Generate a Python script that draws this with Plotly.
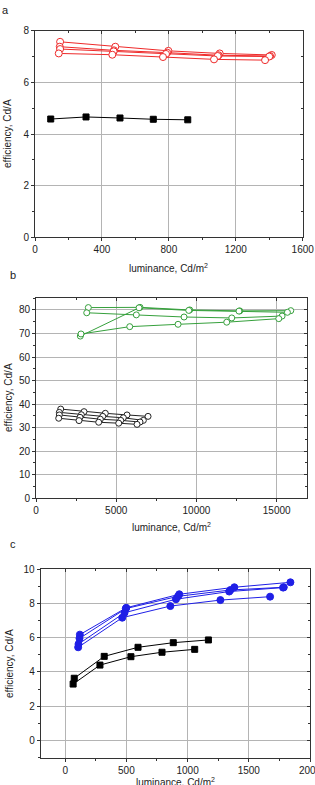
import plotly.graph_objects as go

# ---------------- data ----------------
# panel a
a_black_x = [94, 305, 508, 707, 913]
a_black_y = [4.58, 4.66, 4.62, 4.57, 4.55]
a_red_x = [
    [150, 480, 797, 1104, 1415],
    [148, 472, 790, 1097, 1405],
    [150, 470, 783, 1092, 1400],
    [142, 462, 765, 1070, 1375],
]
a_red_y = [
    [7.57, 7.38, 7.22, 7.12, 7.06],
    [7.38, 7.24, 7.15, 7.05, 7.02],
    [7.29, 7.20, 7.10, 7.02, 7.00],
    [7.12, 7.07, 6.98, 6.89, 6.86],
]
# panel b
b_green_x = [
    [3261, 6484, 9582, 12700, 15877],
    [2762, 6420, 9520, 12650, 15668],
    [3161, 6253, 9227, 12200, 15337],
    [2805, 5842, 8853, 11886, 15130],
]
b_green_y = [
    [81.0, 81.1, 80.0, 79.6, 79.7],
    [68.9, 80.9, 79.8, 79.5, 79.0],
    [78.8, 77.9, 77.0, 76.6, 77.4],
    [69.8, 72.9, 73.9, 74.8, 76.3],
]
b_black_x = [
    [1540, 2993, 4320, 5673, 6983],
    [1453, 2825, 4158, 5443, 6690],
    [1453, 2743, 4009, 5281, 6484],
    [1415, 2681, 3908, 5156, 6297],
]
b_black_y = [
    [37.9, 36.8, 36.1, 35.4, 34.8],
    [36.5, 35.5, 34.8, 34.2, 33.1],
    [35.4, 34.4, 33.6, 33.1, 32.4],
    [34.0, 33.0, 32.3, 31.9, 31.4],
]
# panel c
c_blue_x = [
    [120, 499, 932, 1382, 1840],
    [117, 495, 922, 1350, 1786],
    [109, 485, 905, 1340, 1780],
    [106, 466, 859, 1268, 1674],
]
c_blue_y = [
    [6.18, 7.75, 8.54, 8.95, 9.24],
    [5.96, 7.70, 8.42, 8.79, 8.95],
    [5.63, 7.46, 8.25, 8.70, 8.93],
    [5.44, 7.17, 7.85, 8.20, 8.40],
]
c_black_x = [
    [74, 319, 595, 883, 1170],
    [65, 284, 537, 791, 1058],
]
c_black_y = [
    [3.63, 4.91, 5.44, 5.71, 5.87],
    [3.29, 4.40, 4.89, 5.15, 5.32],
]

X_TITLE = "luminance, Cd/m<sup>2</sup>"
Y_TITLE = "efficiency, Cd/A"
PANEL_LABELS = ["a", "b", "c"]

# ---------------- figure ----------------
W, H = 315, 785
FONT = "Liberation Sans, Arial, sans-serif"
RED = "#ee2a2a"
GREEN = "#36a03c"
BLUE = "#1f1fe6"
GRID = "#b4b4b4"
TXT = "#222222"

fig = go.Figure()


def add(xs, ys, color, symbol, fill, size, xa, ya):
    fig.add_trace(go.Scatter(
        x=xs, y=ys, mode="lines+markers", xaxis=xa, yaxis=ya,
        line=dict(color=color, width=1),
        marker=dict(symbol=symbol, size=size, color=fill,
                    line=dict(color=color, width=1)),
        showlegend=False, hoverinfo="skip"))


for xs, ys in zip(a_red_x, a_red_y):
    add(xs, ys, RED, "circle", "white", 7, "x", "y")
add(a_black_x, a_black_y, "#000000", "square", "#000000", 6, "x", "y")

for xs, ys in zip(b_green_x, b_green_y):
    add(xs, ys, GREEN, "circle", "white", 6, "x2", "y2")
for xs, ys in zip(b_black_x, b_black_y):
    add(xs, ys, "#222222", "circle", "white", 6, "x2", "y2")

for xs, ys in zip(c_blue_x, c_blue_y):
    add(xs, ys, BLUE, "circle", BLUE, 7, "x3", "y3")
for xs, ys in zip(c_black_x, c_black_y):
    add(xs, ys, "#000000", "square", "#000000", 6, "x3", "y3")


def px_dom_x(x0, x1):
    return [x0 / W, x1 / W]


def px_dom_y(top, bottom):
    return [1 - bottom / H, 1 - top / H]


panels = [
    dict(xd=(35, 302.7), yd=(30.7, 237.3), xr=[0, 1600], yr=[0, 8],
         xdt=400, ydt=2, xmi=200, ymi=1,
         xt=(168, 268), yt=(8, 134), lab=(5, 10)),
    dict(xd=(36, 306.7), yd=(297.7, 498.3), xr=[0, 16870], yr=[0, 85.2],
         xdt=5000, ydt=10, xmi=2500, ymi=5,
         xt=(171, 527), yt=(8, 398), lab=(13, 275)),
    dict(xd=(40.7, 310), yd=(569.3, 758.3), xr=[-200, 2000], yr=[-1.05, 10],
         xdt=500, ydt=2, xmi=250, ymi=1,
         xt=(175, 782), yt=(9, 664), lab=(13, 544)),
]

tickfont = dict(family=FONT, size=10, color=TXT)
layout = {}
annotations = []
for i, p in enumerate(panels):
    s = "" if i == 0 else str(i + 1)
    xdom = px_dom_x(*p["xd"])
    ydom = px_dom_y(*p["yd"])
    common = dict(showgrid=True, gridcolor=GRID, gridwidth=1,
                  showline=True, linecolor="#333333", linewidth=1,
                  mirror=True, ticks="outside", ticklen=3,
                  tickcolor="#333333", zeroline=False, tickfont=tickfont,
                  automargin=False, tick0=0, ticklabeloverflow="allow")
    layout["xaxis" + s] = dict(
        domain=xdom, range=p["xr"], anchor="y" + s, dtick=p["xdt"],
        tickformat="d",
        minor=dict(dtick=p["xmi"], tick0=0, ticks="outside", ticklen=2,
                   tickcolor="#333333", showgrid=False),
        **common)
    layout["yaxis" + s] = dict(
        domain=ydom, range=p["yr"], anchor="x" + s, dtick=p["ydt"],
        minor=dict(dtick=p["ymi"], tick0=0, ticks="outside", ticklen=2,
                   tickcolor="#333333", showgrid=False),
        **common)
    # mirrored inside ticks (top / right)
    k = str(i + 4)
    inside = dict(showgrid=False, showline=False, showticklabels=False,
                  ticks="inside", ticklen=3, tickcolor="#333333",
                  zeroline=False, automargin=False, tick0=0)
    layout["xaxis" + k] = dict(
        overlaying="x" + s, side="top", anchor="y" + s, range=p["xr"],
        dtick=p["xdt"],
        minor=dict(dtick=p["xmi"], tick0=0, ticks="inside", ticklen=2,
                   tickcolor="#333333", showgrid=False),
        **inside)
    layout["yaxis" + k] = dict(
        overlaying="y" + s, side="right", anchor="x" + s, range=p["yr"],
        dtick=p["ydt"],
        minor=dict(dtick=p["ymi"], tick0=0, ticks="inside", ticklen=2,
                   tickcolor="#333333", showgrid=False),
        **inside)
    fig.add_trace(go.Scatter(x=[None], y=[None], xaxis="x" + k,
                             yaxis="y" + k, showlegend=False,
                             hoverinfo="skip"))

    annotations.append(dict(
        text=X_TITLE, x=p["xt"][0] / W, y=1 - p["xt"][1] / H,
        xref="paper", yref="paper", showarrow=False,
        xanchor="center", yanchor="middle",
        font=dict(family=FONT, size=10, color=TXT)))
    annotations.append(dict(
        text=Y_TITLE, x=p["yt"][0] / W, y=1 - p["yt"][1] / H,
        xref="paper", yref="paper", showarrow=False, textangle=-90,
        xanchor="center", yanchor="middle",
        font=dict(family=FONT, size=10, color=TXT)))
    annotations.append(dict(
        text=PANEL_LABELS[i], x=p["lab"][0] / W, y=1 - p["lab"][1] / H,
        xref="paper", yref="paper", showarrow=False,
        xanchor="center", yanchor="middle",
        font=dict(family=FONT, size=11, color=TXT)))

fig.update_layout(
    width=W, height=H, margin=dict(l=0, r=0, t=0, b=0, autoexpand=False),
    paper_bgcolor="white", plot_bgcolor="white",
    showlegend=False, annotations=annotations, **layout,
)

fig.write_html("out.html")
